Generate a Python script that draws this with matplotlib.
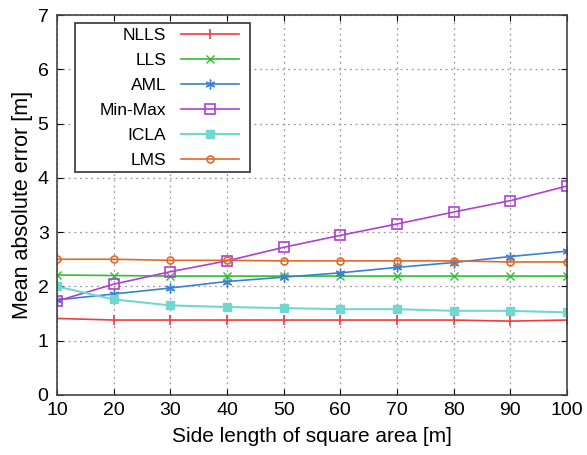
import matplotlib.pyplot as plt
from matplotlib.patches import Rectangle

plt.rcParams['font.family'] = ['Liberation Sans', 'DejaVu Sans']

# Data
side = [10, 20, 30, 40, 50, 60, 70, 80, 90, 100]
nlls = [1.41, 1.38, 1.38, 1.38, 1.38, 1.38, 1.38, 1.38, 1.36, 1.38]
lls = [2.21, 2.20, 2.19, 2.19, 2.19, 2.19, 2.19, 2.19, 2.19, 2.19]
aml = [1.75, 1.86, 1.97, 2.09, 2.17, 2.25, 2.35, 2.44, 2.55, 2.65]
minmax = [1.73, 2.04, 2.27, 2.47, 2.72, 2.94, 3.15, 3.37, 3.58, 3.85]
icla = [2.00, 1.76, 1.65, 1.62, 1.60, 1.58, 1.58, 1.55, 1.55, 1.52]
lms = [2.50, 2.50, 2.48, 2.48, 2.47, 2.47, 2.47, 2.47, 2.45, 2.45]

fig = plt.figure(figsize=(5.87, 4.55), dpi=100)
ax = fig.add_axes([0.097, 0.132, 0.869, 0.835])

ax.plot(side, nlls, color='#f03c3c', marker='|', ms=7, mew=1.2, lw=1.2, label='NLLS')
ax.plot(side, lls, color='#2fbf2f', marker='x', ms=6, mew=1.0, lw=1.2, label='LLS')
ax.plot(side, aml, color='#3d7fd0', marker=(6, 2, 0), ms=7, mew=1.0, lw=1.2, label='AML')
ax.plot(side, minmax, color='#b040d0', marker='s', ms=6.5, mfc='none', mew=1.2, lw=1.2, label='Min-Max')
ax.plot(side, icla, color='#70d8d0', marker='s', ms=6, lw=1.5, label='ICLA')
ax.plot(side, lms, color='#e06a28', marker='o', ms=5, mfc='none', mew=1.2, lw=1.2, label='LMS')

ax.set_xlim(10, 100)
ax.set_ylim(0, 7)
ax.set_xticks(side)
ax.set_yticks(range(8))
ax.grid(True, linestyle=(0, (1.5, 3)), color='#999999', lw=0.9)
ax.tick_params(direction='in', top=True, right=True, labelsize=14, length=4)
ax.tick_params(axis='x', pad=5)
ax.tick_params(axis='y', pad=6)
for s in ax.spines.values():
    s.set_color('#444444')
    s.set_linewidth(1.2)

ax.set_xlabel('Side length of square area [m]', fontsize=15, labelpad=6)
ax.set_ylabel('Mean absolute error [m]', fontsize=15.5, labelpad=3)

# legend box drawn separately so its padding can be uneven like the original
ax.add_patch(Rectangle((0.035, 0.587), 0.343, 0.392, transform=ax.transAxes,
                       facecolor='white', edgecolor='#333333', lw=1.2, zorder=4))

# markerfirst=False right-aligns the labels against the handles
leg = ax.legend(loc='upper right', bbox_to_anchor=(0.357, 0.967), markerfirst=False,
                fontsize=12.5, frameon=False, handlelength=3.35,
                handletextpad=0.85, labelspacing=0.57, borderpad=0,
                borderaxespad=0)
leg.set_zorder(5)

fig.savefig('out.png', dpi=100)
